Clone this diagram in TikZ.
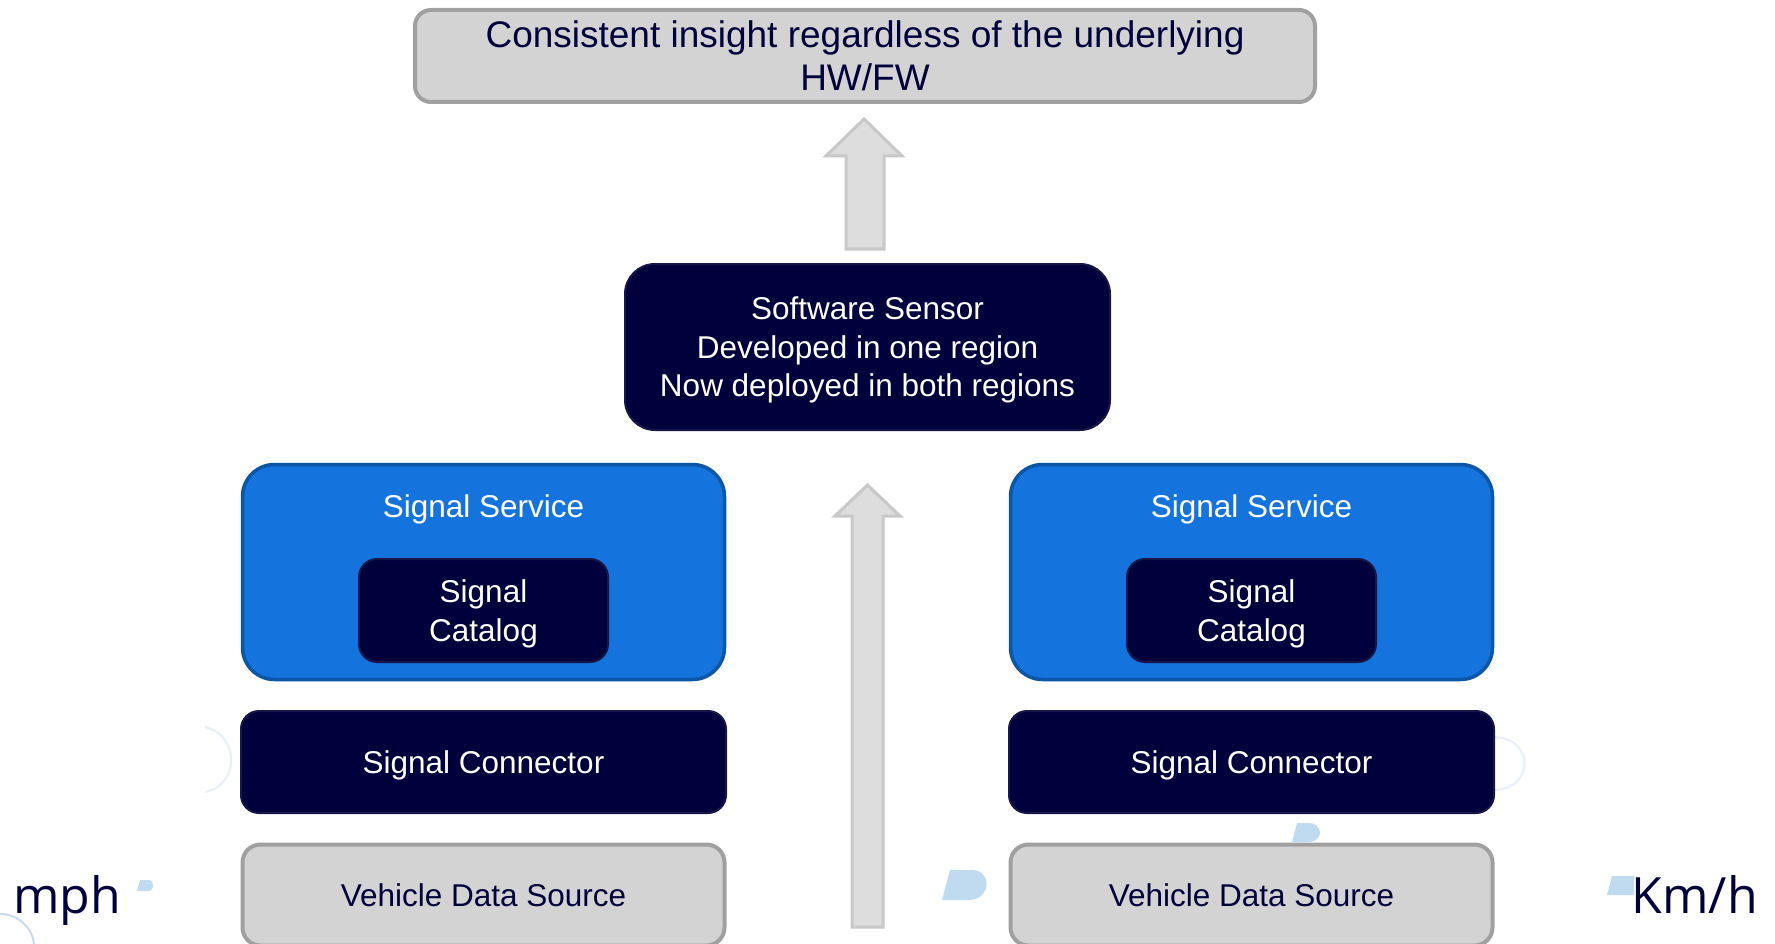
\documentclass[tikz,border=0pt]{standalone}
\usepackage{fontspec}
\setmainfont{Liberation Sans}
\newfontfamily\unitfont{Open Sans}
\definecolor{navy}{RGB}{0,0,60}
\definecolor{navyborder}{RGB}{22,22,72}
\definecolor{sigblue}{RGB}{20,115,220}
\definecolor{sigblueborder}{RGB}{12,86,166}
\definecolor{grayfill}{RGB}{211,211,211}
\definecolor{grayborder}{RGB}{160,160,160}
\definecolor{arrowfill}{RGB}{221,221,221}
\definecolor{arrowborder}{RGB}{200,200,200}
\definecolor{blob}{RGB}{192,218,240}
\definecolor{faintring}{RGB}{232,239,250}
\definecolor{ring}{RGB}{200,218,242}
\begin{document}
\begin{tikzpicture}[x=1pt,y=-1pt,
  boxbase/.style={rectangle, inner sep=0pt, align=center, font=\fontsize{31.5}{38.5}\selectfont},
  graybox/.style={boxbase, fill=grayfill, draw=grayborder, line width=4pt, text=navy, rounded corners=16pt},
  navybox/.style={boxbase, fill=navy, draw=navyborder, line width=2pt, text=white, rounded corners=18pt, text depth=0pt},
  bluebox/.style={boxbase, fill=sigblue, draw=sigblueborder, line width=3.5pt, rounded corners=32pt},
  titletext/.style={inner sep=0pt, text=white, font=\fontsize{31.5}{38.5}\selectfont},
  unittext/.style={inner sep=0pt, text=navy, font=\unitfont\fontsize{50}{60}\selectfont},
  blockarrow/.style={fill=arrowfill, draw=arrowborder, line width=3pt, line join=miter},
  blobshape/.style={fill=blob, draw=none},
  ringline/.style={draw=faintring, line width=2pt}
]
\useasboundingbox (0,0) rectangle (1775,944);
\clip (0,0) rectangle (1775,944);
\fill[white] (0,0) rectangle (1775,944);

% faint background decorations
\draw[ringline] (1493,737) .. controls (1535,737) and (1535,790) .. (1493,790);
\draw[ringline] (205,727) .. controls (240,735) and (240,785) .. (205,792);
\draw[draw=ring, line width=2pt] (0,914) .. controls (20,914) and (33,930) .. (34,944);
\fill[blobshape] (140,880) -- (148,880) .. controls (155,880) and (155,891) .. (148,891) -- (137,891) -- cycle;
\fill[blobshape] (950,870) -- (972,870) .. controls (992,870) and (992,900) .. (968,900) -- (942,900) -- cycle;
\fill[blobshape] (1297,823) -- (1308,823) .. controls (1324,823) and (1324,842) .. (1308,842) -- (1292,842) -- cycle;
\fill[blobshape] (1612,876) -- (1634,876) -- (1634,895) -- (1607,895) -- cycle;

% block arrows
\coordinate (topTip) at (864,119);
\coordinate (midTip) at (867.5,485);
\draw[blockarrow] (846,249) -- (846,156) -- (826,156) -- (topTip) -- (902,156) -- (884,156) -- (884,249) -- cycle;
\draw[blockarrow] (852,927) -- (852,516) -- (835,516) -- (midTip) -- (900,516) -- (883,516) -- (883,927) -- cycle;

% top box
\node[graybox, minimum width=900pt, minimum height=92pt, font=\fontsize{37}{43}\selectfont] (insight) at (865,56)
  {Consistent insight regardless of the underlying\\HW/FW};

% software sensor
\node[navybox, rounded corners=30pt, minimum width=485pt, minimum height=166pt] (sensor) at (867.5,347)
  {Software Sensor\\Developed in one region\\Now deployed in both regions};

% left column
\node[bluebox, minimum width=482pt, minimum height=215pt] (serviceL) at (483.5,572) {};
\node[titletext, anchor=base] (serviceLtitle) at (483.5,517) {Signal Service};
\node[navybox, minimum width=249pt, minimum height=103pt] (catalogL) at (483.5,610.5) {Signal\\Catalog};
\node[navybox, minimum width=485pt, minimum height=102pt] (connectorL) at (483.5,762) {Signal Connector};
\node[graybox, rounded corners=18pt, minimum width=482pt, minimum height=101pt] (sourceL) at (483.5,895) {Vehicle Data Source};

% right column
\node[bluebox, minimum width=482pt, minimum height=215pt] (serviceR) at (1251.5,572) {};
\node[titletext, anchor=base] (serviceRtitle) at (1251.5,517) {Signal Service};
\node[navybox, minimum width=249pt, minimum height=103pt] (catalogR) at (1251.5,610.5) {Signal\\Catalog};
\node[navybox, minimum width=485pt, minimum height=102pt] (connectorR) at (1251.5,762) {Signal Connector};
\node[graybox, rounded corners=18pt, minimum width=482pt, minimum height=101pt] (sourceR) at (1251.5,895) {Vehicle Data Source};

% units
\node[unittext, anchor=base west] (mph) at (13,913) {mph};
\node[unittext, anchor=base east] (kmh) at (1758,913) {Km/h};
\end{tikzpicture}
\end{document}
